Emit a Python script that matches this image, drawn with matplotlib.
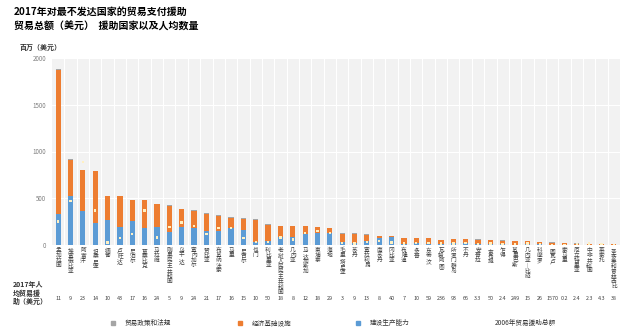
import matplotlib
matplotlib.use("Agg")
import matplotlib.pyplot as plt
import matplotlib.transforms as mtransforms
from matplotlib.patches import Rectangle

plt.rcParams['font.family'] = ['Noto Sans CJK SC', 'DejaVu Sans']

countries = [
    "孟加拉国", "埃塞俄比亚", "阿富汗", "坦桑尼亚", "缅甸", "卢旺达", "尼泊尔", "莫桑比克",
    "马拉维", "刚果民主共和国", "乌干达", "塞内加尔", "赞比亚", "布基纳法索", "马里", "尼日尔",
    "也门", "利比里亚", "老挝人民民主共和国", "几内亚", "马达加斯加", "柬埔寨", "海地", "毛里塔尼亚",
    "苏丹", "塞拉利昂", "南苏丹", "冈比亚", "布隆迪", "多哥", "东帝汶", "瓦努阿图",
    "所罗门群岛", "不丹", "安哥拉", "吉布提", "乍得", "基里巴斯", "几内亚-比绍", "科摩罗",
    "图瓦卢", "索马里", "厄立特里亚", "中非共和国", "莱索托", "圣多美和普林西比",
]
per_capita = [
    "11", "9", "23", "14", "10", "43", "17", "16", "24", "5", "9", "24", "21", "17", "16", "15",
    "10", "50", "18", "8", "12", "18", "29", "3", "9", "13", "8", "40", "7", "10", "59", "236",
    "93", "66", "3.3", "50", "2.4", "249", "15", "26", "1570", "0.2", "2.4", "2.3", "4.3", "38",
]
# 建设生产能力 (百万美元)
productive = [
    333, 520, 366, 233, 269, 197, 262, 186, 197, 143, 197, 179, 150, 154, 179, 161,
    36, 43, 90, 90, 118, 125, 125, 36, 20, 43, 72, 90, 10, 25, 15, 12,
    20, 25, 15, 12, 10, 5, 10, 6, 2, 3, 4, 3, 3, 2,
]
# 经济基础设施 (百万美元)
infrastructure = [
    1542, 390, 434, 557, 253, 325, 218, 294, 238, 275, 185, 189, 186, 160, 114, 122,
    236, 175, 113, 113, 85, 68, 57, 86, 101, 68, 22, 5, 66, 50, 57, 40,
    45, 37, 42, 40, 37, 38, 28, 26, 24, 17, 12, 9, 7, 5,
]
# 贸易政策和法规 (百万美元)
policy = [
    5, 5, 5, 5, 5, 5, 5, 5, 5, 5, 5, 5, 5, 5, 5, 4,
    4, 4, 4, 4, 4, 4, 4, 4, 4, 4, 3, 2, 3, 3, 3, 2,
    2, 2, 2, 2, 2, 1, 1, 1, 1, 1, 1, 1, 1, 1,
]
# 2006年贸易援助总额 (百万美元)
aid_2006 = [
    251, 473, 890, 369, 25, 72, 118, 369, 79, 190, 240, 204, 115, 179, 179, 72,
    30, 35, 80, 60, 130, 150, 130, 20, 15, 30, 40, 25, 15, 20, 20, 15,
    15, 20, 10, 15, 10, 8, 15, 10, 2, 3, 8, 15, 5, 3,
]
yticks = [0, 500, 1000, 1500, 2000]

W, H = 623, 335
fig = plt.figure(figsize=(W / 100, H / 100), dpi=100)
ax = fig.add_axes([52 / W, 1 - 245 / H, 568 / W, 187 / H])

n = len(countries)
x = list(range(n))
blue = "#5B9BD5"
orange = "#ED7D31"
gray = "#A5A5A5"
marker_col = "#FFF0C2"

ax.set_facecolor("#F2F2F2")
bw = 0.42
ax.bar(x, productive, width=bw, color=blue, zorder=2)
ax.bar(x, infrastructure, width=bw, bottom=productive, color=orange, zorder=2)
bottom2 = [a + b for a, b in zip(productive, infrastructure)]
ax.bar(x, policy, width=bw, bottom=bottom2, color=gray, zorder=2)
ax.scatter(x, aid_2006, marker="s", s=3, color=marker_col, edgecolors="none", zorder=3)

ax.set_xlim(-0.5, n - 0.5)
ax.set_ylim(0, 2000)
ax.set_yticks(yticks)
ax.set_yticklabels([str(v) for v in yticks], fontsize=4.5, color="#7F7F7F")
ax.set_xticks([i + 0.5 for i in x[:-1]])
ax.set_xticklabels([])
ax.tick_params(axis="both", length=0, pad=4)
ax.grid(True, color="white", linewidth=0.8, zorder=0)
for s in ax.spines.values():
    s.set_visible(False)

# vertical country names under each bar
tr_lab = mtransforms.blended_transform_factory(ax.transData, fig.transFigure)
for i, name in enumerate(countries):
    ax.text(i, 1 - 248 / H, "\n".join(name.replace("-", "｜")), transform=tr_lab,
            ha="center", va="top", fontsize=4.1, linespacing=0.98, color="#404040")
    ax.text(i, 1 - 299 / H, per_capita[i], transform=tr_lab, ha="center", va="center",
            fontsize=3.9, color="#404040")

# titles
fig.text(14 / W, 1 - 12 / H, "2017年对最不发达国家的贸易支付援助", fontsize=7.2,
         fontweight="bold", va="center", ha="left")
fig.text(14 / W, 1 - 27 / H, "贸易总额（美元）  援助国家以及人均数量", fontsize=7.2,
         fontweight="bold", va="center", ha="left")
fig.text(20 / W, 1 - 47 / H, "百万（美元）", fontsize=5, fontweight="bold",
         va="center", ha="left", color="#333333")
fig.text(13 / W, 1 - 293 / H, "2017年人\n均贸易援\n助（美元）", fontsize=5,
         fontweight="bold", va="center", ha="left", linespacing=1.25, color="#333333")

# legend
leg_y = 1 - 323 / H
items = [(113, gray, "贸易政策和法规"), (240, orange, "经济基础设施"), (358, blue, "建设生产能力")]
for px, col, txt in items:
    fig.patches.append(Rectangle(((px - 2) / W, leg_y - 2 / H), 4 / W, 4 / H,
                                 transform=fig.transFigure, color=col))
    fig.text((px + 12) / W, leg_y, txt, fontsize=4.8, va="center", ha="left", color="#333333")
fig.text(495 / W, leg_y, "2006年贸易援助总额", fontsize=4.8, va="center", ha="left",
         color="#333333")

fig.savefig("out.png", dpi=100)
